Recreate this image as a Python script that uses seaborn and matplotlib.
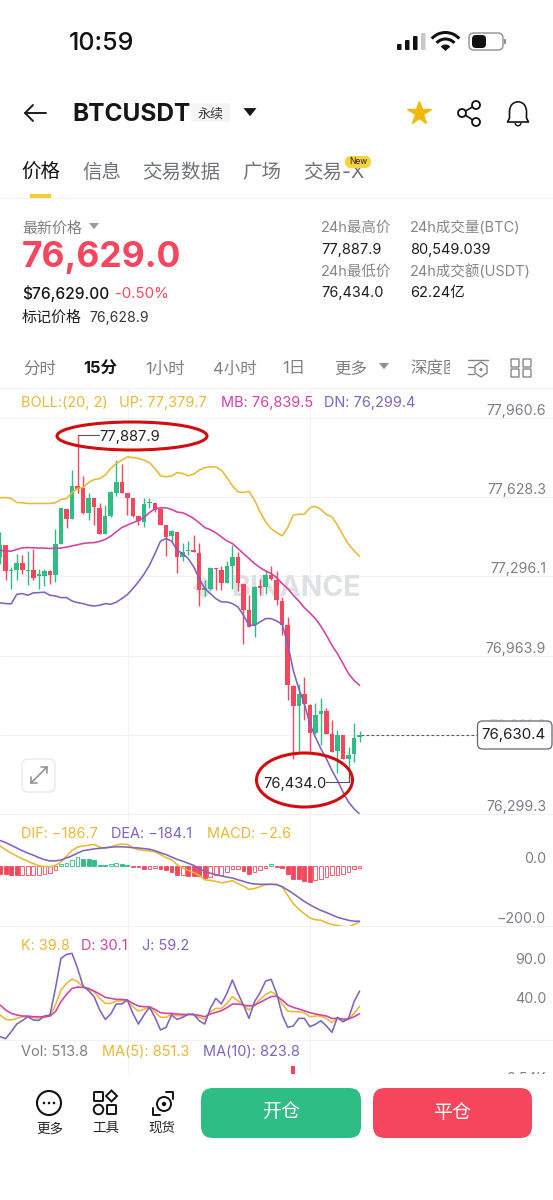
import numpy as np
import matplotlib
matplotlib.use("Agg")
import matplotlib.pyplot as plt
from matplotlib.patches import Ellipse, FancyBboxPatch, Rectangle, Circle, Wedge, Polygon
import seaborn as sns

# ---------- data ----------
OPEN = [77378,77427,77319,77322,77354,77319,77322,77298,77298,77319,77301,77434,77578,77536,77675,77669,77560,77623,77585,77473,
        77549,77648,77693,77648,77623,77549,77525,77602,77605,77578,77511,77465,77483,77378,77402,77406,77396,77241,77244,77331,
        77322,77270,77340,77378,77263,77154,77091,77255,77252,77300,77280,77193,77094,76836,76751,76804,76758,76639,76717,76731,
        76636,76563,76629,76531,76549,76622]
HIGH = [77483,77427,77336,77392,77385,77403,77413,77329,77329,77325,77493,77581,77578,77742,77889,77718,77644,77627,77602,77595,
        77654,77784,77766,77648,77623,77549,77627,77627,77605,77588,77511,77490,77483,77438,77445,77469,77437,77280,77336,77332,
        77340,77361,77427,77399,77266,77217,77255,77287,77319,77339,77319,77210,77126,76839,76843,76874,76759,76765,76787,76745,
        76695,76650,76629,76580,76682,76646]
LOW = [77350,77280,77242,77280,77308,77261,77280,77245,77256,77266,77273,77434,77501,77536,77644,77557,77532,77511,77472,77472,
       77546,77633,77644,77553,77546,77511,77504,77581,77567,77511,77381,77441,77312,77361,77385,77399,77171,77213,77241,77241,
       77238,77269,77245,77235,77011,77084,77042,77217,77224,77280,77175,77052,76779,76531,76563,76692,76563,76636,76587,76636,
       76559,76472,76531,76434,76517,76601]
CLOSE = [77427,77318,77325,77354,77322,77325,77291,77308,77319,77304,77434,77581,77536,77675,77662,77560,77623,77588,77473,77549,
         77651,77693,77648,77623,77549,77529,77599,77609,77574,77511,77462,77486,77378,77399,77406,77399,77238,77249,77332,77326,
         77270,77339,77378,77269,77154,77084,77252,77249,77300,77284,77196,77094,76839,76751,76804,76759,76639,76713,76731,76636,
         76559,76629,76531,76548,76618,76629]
BOLL_UP = [77626,77627,77623,77606,77605,77602,77602,77602,77602,77602,77605,77619,77623,77647,77665,77669,77690,77703,77706,77721,
           77749,77770,77784,77797,77795,77791,77784,77773,77749,77718,77714,77717,77732,77728,77718,77725,77742,77752,77756,77755,
           77742,77711,77676,77651,77648,77653,77616,77567,77525,77497,77480,77466,77501,77553,77557,77557,77584,77590,77577,77556,
           77546,77511,77469,77431,77403,77380]
BOLL_MB = [77406,77402,77402,77409,77416,77417,77416,77415,77415,77413,77415,77415,77419,77424,77429,77434,77437,77438,77443,77451,
           77465,77483,77501,77511,77521,77531,77543,77564,77580,77584,77584,77577,77566,77563,77553,77539,77521,77501,77492,77479,
           77462,77445,77434,77413,77392,77371,77350,77333,77319,77308,77291,77266,77245,77217,77193,77165,77143,77119,77087,77049,
           77007,76972,76930,76888,76860,76839]
BOLL_DN = [77185,77182,77181,77221,77224,77217,77227,77228,77230,77217,77214,77207,77207,77193,77186,77182,77175,77172,77175,77182,
           77179,77188,77203,77220,77245,77273,77305,77343,77392,77444,77455,77444,77406,77392,77371,77336,77287,77245,77224,77203,
           77189,77189,77182,77168,77133,77091,77091,77105,77119,77119,77109,77095,77014,76902,76825,76762,76678,76622,76573,76531,
           76482,76440,76391,76349,76321,76299]
DIF = [67,54,43,33,24,16,8,1,-2,-3,2,13,33,52,63,67,69,72,63,59,63,70,73,72,61,54,52,50,47,38,28,21,4,-7,-14,-22,-31,-46,-48,-51,
       -56,-53,-49,-59,-67,-78,-75,-69,-62,-61,-61,-70,-98,-125,-144,-159,-173,-179,-181,-189,-195,-198,-202,-203,-195,-187]
DEA = [85,78,69,60,51,43,36,28,21,17,17,20,27,34,43,51,54,57,59,61,63,64,64,63,61,60,58,56,51,44,38,30,22,16,9,2,-9,-18,-24,-29,
       -33,-37,-40,-46,-51,-57,-60,-61,-61,-61,-62,-69,-80,-92,-105,-118,-129,-139,-148,-155,-163,-171,-176,-181,-184,-184]
MACD = [-26,-27,-29,-31,-31,-31,-29,-29,-26,-22,-14,8,10,19,30,24,22,19,4,2,6,11,7,3,-3,-4,-9,-9,-7,-11,-14,-20,-31,-31,-33,-34,
        -35,-39,-37,-31,-29,-20,-11,-9,-18,-26,-20,-14,-7,6,-3,-6,-27,-42,-44,-50,-53,-48,-42,-37,-31,-29,-26,-20,-9,-6]
KDJ_K = [28.5,22.9,22.1,24.2,26.3,26.3,25.5,24.2,25.5,27.2,41.3,60.5,69,74.6,71.2,64.8,61.4,58.4,49.8,43.4,43.4,46.4,46.8,46.8,39.1,
         33.6,35.7,38.3,32.7,25.5,25.5,29.8,27.6,27.6,29.3,28.5,25.5,22.9,32.7,37,37,43.4,52,46.8,41.3,34.9,41.3,48.5,54.9,58.4,54.1,
         42.6,33.6,32.7,32.7,31.5,26.3,27.2,27.2,24.2,18.6,25.1,19.9,22.9,30.6,39.8]
KDJ_D = [41.3,34.9,30.6,28.5,27.2,27.2,26.3,26.3,26.3,27.2,32.7,45.6,54.9,62.6,64.3,63.9,62.6,59.2,55.4,51.1,49.8,48.5,48.5,47.7,43.4,
         40,39.1,39.1,35.7,31.5,30.6,30.6,29.8,29.3,29.3,29.3,28,26.3,29.8,31.9,34,37.9,42.6,42.6,41.3,40,40.9,44.7,48.5,52,52.8,
         47.7,41.3,38.3,36.2,34,31.5,29.8,28.5,27.2,24.2,24.2,23.3,23.3,26.3,30.1]
KDJ_J = [0.7,-1.8,7.1,16.9,21.2,26.3,22.1,21.6,27.2,28.5,62.6,101.1,106.2,107.5,88.3,65.6,59.6,52,34.9,22.9,29.8,42.6,42.6,47.7,30.6,
         16.9,28.5,38.3,25.5,9.3,12.7,28.5,22.9,25.5,29.3,29.3,21.2,16.9,37,49.8,42.6,56.2,73.3,56.2,41.3,24.2,45.6,57.1,72,74.2,56.2,
         28.5,12.7,14.4,24.2,24.2,13.5,16.5,21.2,14.4,6.3,25.5,19.9,24.2,45.6,59.2]
PRICE_TICKS = [77960.6,77628.3,77296.1,76963.9,76631.6,76299.3]
MACD_TICKS = [0.0,-200.0]
KDJ_TICKS = [90.0,40.0]
LAST_PRICE = 76630.4
DAY_HIGH = 77887.9
DAY_LOW = 76434.0
VOL_SPIKE_INDEX = [53]
VOL_SPIKE_VALUE = [3694]

# ---------- style ----------
sns.set_theme(style="white")
FONT = ["Inter", "Noto Sans CJK SC", "DejaVu Sans"]
plt.rcParams["font.family"] = FONT
GREEN, RED = "#2EBD85", "#F6465D"
YEL, MAG, PUR = "#EBB833", "#D53FA6", "#7F63BE"
GRID = "#F1F2F4"
GREY = "#7C7F85"
W, H = 553, 1200
fig = plt.figure(figsize=(W / 100, H / 100), dpi=100, facecolor="white")

idx = np.arange(len(CLOSE))
X0, DX = 0.15, 5.53
XLIM = ((0 - X0) / DX, (W - X0) / DX)
VLINES = [(127.5 - X0) / DX, (310 - X0) / DX]

def panel(top, bottom, ylim):
    ax = fig.add_axes([0, 1 - bottom / H, 1, (bottom - top) / H])
    ax.set_xlim(*XLIM)
    ax.set_ylim(*ylim)
    ax.patch.set_alpha(0)
    for s in ax.spines.values():
        s.set_visible(False)
    ax.set_xticks([])
    ax.set_xlabel("")
    for v in VLINES:
        ax.axvline(v, color=GRID, lw=0.8, zorder=0)
    return ax

def yticks(ax, ticks, fmt):
    ax.yaxis.tick_right()
    ax.set_yticks(ticks)
    ax.set_yticklabels([fmt(t) for t in ticks])
    ax.tick_params(axis="y", length=0, pad=-5, labelsize=10.2, labelcolor=GREY)
    for l in ax.get_yticklabels():
        l.set_ha("right")
        l.set_va("bottom")

def line(ax, y, c, lw=1.15):
    sns.lineplot(x=idx, y=y, color=c, lw=lw, ax=ax, legend=False, errorbar=None, sort=False, zorder=5)
    ax.set_xlabel("")
    ax.set_ylabel("")

# ---------- price ----------
ax = panel(418, 814, (76299.3, 77960.6))
yticks(ax, PRICE_TICKS, lambda t: f"{t:,.1f}")
for t in PRICE_TICKS:
    ax.axhline(t, color=GRID, lw=0.8, zorder=0)
o, h, l, c = map(np.array, (OPEN, HIGH, LOW, CLOSE))
col = [GREEN if cc >= oo else RED for oo, cc in zip(o, c)]
ax.vlines(idx, l, h, colors=col, lw=1.0, zorder=4)
ax.bar(idx, np.maximum(np.abs(c - o), 5), bottom=np.minimum(o, c), width=0.82, color=col, zorder=4, lw=0)
line(ax, BOLL_UP, YEL)
line(ax, BOLL_MB, MAG)
line(ax, BOLL_DN, PUR)
ax.plot([idx[-1] + 0.3, XLIM[1] - 13.6], [LAST_PRICE] * 2, color="#55585E", lw=0.8, ls=(0, (2.5, 2)), zorder=2)
ax.plot([14, 17.9], [DAY_HIGH] * 2, color="#55585E", lw=0.8, zorder=6)
ax.plot([63, 59], [DAY_LOW] * 2, color="#55585E", lw=0.8, zorder=6)
ax.plot([63, 63], [DAY_LOW, DAY_LOW + 60], color="#55585E", lw=0.8, zorder=6)
ax.annotate(f"{DAY_HIGH:,.1f}", (17.9, DAY_HIGH), xytext=(0, -1.2), textcoords="offset points", fontsize=10.6,
            va="center", ha="left", color="#222", zorder=7)
ax.annotate(f"{DAY_LOW:,.1f}", (59, DAY_LOW), xytext=(0, -1.2), textcoords="offset points", fontsize=10.6,
            va="center", ha="right", color="#222", zorder=7)

# ---------- MACD ----------
ax2 = panel(814, 926, (-200, 173.3))
yticks(ax2, MACD_TICKS, lambda t: f"{t:.1f}".replace("-", "−"))
ax2.axhline(-200, color=GRID, lw=0.9, zorder=0, clip_on=False)
ax2.axhline(173.3, color=GRID, lw=0.9, zorder=0, clip_on=False)
m = np.array(MACD)
prev = np.r_[m[0] + 1, m[:-1]]
bar_c = [GREEN if v > 0 else RED for v in m]
face = [("white" if v >= p else cc) for v, p, cc in zip(m, prev, bar_c)]
ax2.bar(idx, m, width=0.68, color=face, edgecolor=bar_c, lw=0.6, zorder=2)
line(ax2, DIF, YEL)
line(ax2, DEA, PUR)

# ---------- KDJ ----------
ax3 = panel(926, 1039.5, (-2.9, 142.6))
yticks(ax3, KDJ_TICKS, lambda t: f"{t:.1f}")
ax3.axhline(-2.9, color=GRID, lw=0.9, zorder=0, clip_on=False)
line(ax3, KDJ_K, YEL)
line(ax3, KDJ_D, MAG)
line(ax3, KDJ_J, PUR)

# ---------- Volume ----------
ax4 = panel(1039.5, 1074, (3600, 4000))
ax4.set_yticks([])
ax4.bar(VOL_SPIKE_INDEX, VOL_SPIKE_VALUE, width=0.72, color=RED, lw=0)

# ---------- screen chrome in pixel space ----------
ui = fig.add_axes([0, 0, 1, 1], zorder=10)
ui.set_xlim(0, W)
ui.set_ylim(H, 0)
ui.axis("off")
ui.patch.set_alpha(0)

def T(x, y, s, px=15, color="#202226", weight="normal", ha="left", z=5, **kw):
    return ui.text(x, y + 2, s, fontsize=px * 0.72, color=color, fontweight=weight, ha=ha, va="center",
                   family=FONT, zorder=z, **kw)

def box(x0, y0, x1, y1, r, **kw):
    p = FancyBboxPatch((x0 + r, y0 + r), x1 - x0 - 2 * r, y1 - y0 - 2 * r,
                       boxstyle=f"round,pad={r},rounding_size={r}", **kw)
    ui.add_patch(p)
    return p

def tri(x, y, s, c):
    ui.add_patch(Polygon([(x - s, y - s * 0.6), (x + s, y - s * 0.6), (x, y + s * 0.65)], color=c, lw=0))

def seg(pts, c="#1A1C20", lw=1.4):
    xs, ys = zip(*pts)
    ui.plot(xs, ys, color=c, lw=lw, solid_capstyle="round", solid_joinstyle="round")

# status bar
T(69, 41, "10:59", 25, "#111", "medium")
for x, t, cc in [(397, 44, "#111"), (405, 40, "#111"), (413, 36, "#111"), (421, 33, "#C8C8C8")]:
    box(x, t, x + 4.5, 50, 1, fc=cc, ec="none")
for r, w in [(20, 3), (13.5, 3)]:
    ui.add_patch(Wedge((445.5, 51), r, 222, 318, width=w, fc="#111", ec="none"))
ui.add_patch(Wedge((445.5, 51), 6.5, 222, 318, fc="#111", ec="none"))
box(469, 33, 503, 50, 5, fc="white", ec="#8E8E8E", lw=1)
box(472, 35, 486, 48, 4, fc="#111", ec="none")
box(504, 39, 506, 44, 0.8, fc="#8E8E8E", ec="none")

# header
seg([(25, 113), (46, 113)]); seg([(33, 105), (25, 113), (33, 121)])
T(72, 112.5, "BTCUSDT", 24.5, "#14161A", "bold")
box(191, 103, 230, 122, 2, fc="#F5F5F5", ec="none")
T(210.5, 112.5, "永续", 13, "#33363B", ha="center")
tri(250, 112, 6.5, "#14161A")
ui.plot([419], [113], marker="*", ms=17.5, color="#F0B90B", mec="#F0B90B")
for p in [(476, 105), (462, 113), (476, 122)]:
    ui.add_patch(Circle(p, 4, fc="white", ec="#111", lw=1.3, zorder=3))
seg([(476, 105), (462, 113), (476, 122)], "#111", 1.2)
ui.add_patch(Wedge((518, 110), 9, 180, 360, width=1.6, fc="#111", ec="none"))
seg([(509.5, 110), (509.5, 118), (507.5, 122), (528.5, 122), (526.5, 118), (526.5, 110)], "#111", 1.2)
ui.add_patch(Wedge((518, 123), 3.5, 0, 180, width=1.4, fc="#111", ec="none"))

# tabs
T(21, 171, "价格", 19.5, "#111", "medium")
for x, s in [(82, "信息"), (142, "交易数据"), (242, "广场"), (303, "交易-X")]:
    T(x, 171, s, 19.5, "#6F7278")
box(345, 156, 371, 168, 6, fc="#F8D33A", ec="none", zorder=6)
T(358, 160, "New", 8.5, "#1C1C1C", ha="center", z=7)
ui.add_patch(Rectangle((30, 194), 21, 4, fc="#F5CE2E", ec="none"))
ui.add_patch(Rectangle((0, 197.5), W, 1.2, fc=GRID, ec="none", zorder=1))

# price block
T(22, 227, "最新价格", 15, "#7D8085")
tri(94, 226, 5, "#9A9CA0")
T(22, 255, "76,629.0", 35.5, RED, "bold")
T(22, 292, "$76,629.00", 15.5, "#14161A", "medium")
T(115, 292, "-0.50%", 15, RED)
T(22, 316, "标记价格", 15, "#1C1E22")
T(89, 316, "76,628.9", 14, "#33363B")
for x, y, s, cc, px in [(321, 226, "24h最高价", "#84878C", 14.5), (410, 226, "24h成交量(BTC)", "#84878C", 14.5),
                        (321, 248, "77,887.9", "#1C1E22", 14.5), (410, 248, "80,549.039", "#1C1E22", 14.5),
                        (321, 270, "24h最低价", "#84878C", 14.5), (410, 270, "24h成交额(USDT)", "#84878C", 14.5),
                        (321, 291, "76,434.0", "#1C1E22", 14.5), (410, 291, "62.24亿", "#1C1E22", 14.5)]:
    T(x, y, s, px, cc)

# interval row
for x, s, cc, w in [(23, "分时", "#7D8085", "normal"), (83, "15分", "#14161A", "bold"), (145, "1小时", "#7D8085", "normal"),
                    (213, "4小时", "#7D8085", "normal"), (282, "1日", "#7D8085", "normal"), (334, "更多", "#7D8085", "normal"),
                    (410, "深度图", "#7D8085", "normal")]:
    T(x, 367, s, 16.5, cc, w)
ui.add_patch(Rectangle((450, 355), 14, 25, fc="white", ec="none", zorder=6))
tri(384, 366, 5, "#8E9095")
seg([(468, 360), (488, 360)], "#85878C", 1); seg([(468, 367), (474, 367)], "#85878C", 1); seg([(468, 374), (474, 374)], "#85878C", 1)
ui.add_patch(Polygon([(481, 362), (487, 366), (487, 373), (481, 377), (475, 373), (475, 366)], fc="white", ec="#85878C", lw=1, zorder=3))
ui.add_patch(Circle((481, 369.5), 1.6, fc="#85878C", ec="none", zorder=4))
for bx, by in [(511, 359), (523, 359), (511, 369), (523, 369)]:
    box(bx, by, bx + 8, by + 8, 0.6, fc="white", ec="#85878C", lw=1)
ui.add_patch(Rectangle((0, 387.6), W, 1.2, fc=GRID, ec="none", zorder=1))
for xv in (127.5, 310):
    ui.plot([xv, xv], [389, 418], color=GRID, lw=0.8, zorder=0)

# indicator labels
for x, y, s, cc in [(21, 401, "BOLL:(20, 2)", YEL), (119, 401, "UP: 77,379.7", YEL), (221, 401, "MB: 76,839.5", MAG),
                    (324, 401, "DN: 76,299.4", PUR), (21, 832, "DIF: −186.7", YEL), (111, 832, "DEA: −184.1", PUR),
                    (207, 832, "MACD: −2.6", YEL), (21, 944, "K: 39.8", YEL), (81, 944, "D: 30.1", MAG),
                    (142, 944, "J: 59.2", PUR), (21, 1050, "Vol: 513.8", GREY), (102, 1050, "MA(5): 851.3", YEL),
                    (203, 1050, "MA(10): 823.8", PUR)]:
    T(x, y, s, 14.5, cc)

# watermark, under the candles
ax.text(231, 588, "BINANCE", transform=ui.transData, fontsize=20.5, fontweight="bold", color="#DFE0E3",
        va="center", ha="left", zorder=1)
ax.add_patch(Polygon([(193, 588), (204, 577), (215, 588), (204, 599)], transform=ui.transData, fc="#E2E3E6", ec="none", zorder=1))

# ellipses
ui.add_patch(Ellipse((132, 436), 150, 28, fc="none", ec="#D30D0D", lw=2.2))
ui.add_patch(Ellipse((304.5, 780), 96, 54, fc="none", ec="#D30D0D", lw=2.2))

# expand button
box(22, 759, 55, 792, 6, fc="white", ec="#ECEDEF", lw=1.2)
seg([(31, 783), (47, 767)], "#8A8C90", 1.1)
seg([(41, 767), (47, 767), (47, 773)], "#8A8C90", 1.1)
seg([(31, 777), (31, 783), (37, 783)], "#8A8C90", 1.1)

# last price tag
T(546, 724, "76,631.6", 14, "#D8D9DB", ha="right", z=2)
box(477.5, 721, 552, 749, 5, fc="white", ec="#55585E", lw=0.9, alpha=0.92, zorder=3)
T(546, 733.5, "76,630.4", 15, "#1B1D20", ha="right", z=6)

# bottom bar
T(546, 1077, "3.54K", 14, GREY, ha="right", z=1)
ui.add_patch(Rectangle((0, 1074), W, 126, fc="white", ec="none", zorder=2))
ui.add_patch(Circle((49, 1103), 12, fc="white", ec="#111", lw=1.5, zorder=3))
for dx in (-5, 0, 5):
    ui.add_patch(Circle((49 + dx, 1103), 1.3, fc="#111", ec="none", zorder=4))
for (x, y), kind in [((94, 1092), "s"), ((107, 1092), "d"), ((94, 1105), "c"), ((107, 1105), "s")]:
    if kind == "s":
        box(x, y, x + 9, y + 9, 0.6, fc="white", ec="#111", lw=1.4, zorder=3)
    elif kind == "c":
        ui.add_patch(Circle((x + 4.5, y + 4.5), 4.8, fc="white", ec="#111", lw=1.4, zorder=3))
    else:
        ui.add_patch(Polygon([(x + 4.5, y - 1.5), (x + 10, y + 4), (x + 4.5, y + 9.5), (x - 1, y + 4)], fc="white", ec="#111", lw=1.4, zorder=3))
ui.add_patch(Circle((164, 1104), 7, fc="white", ec="#111", lw=1.4, zorder=3))
ui.add_patch(Circle((164, 1104), 2.2, fc="#111", ec="none", zorder=4))
seg([(153, 1108), (153, 1115), (160, 1115)], "#111", 1.4)
seg([(166, 1092), (173, 1092), (173, 1099)], "#111", 1.4)
ui.lines[-1].set_zorder(4); ui.lines[-2].set_zorder(4)
for x, s in [(49.5, "更多"), (105.5, "工具"), (161.5, "现货")]:
    T(x, 1126, s, 13.5, "#222", ha="center")
box(201, 1088, 361, 1138, 12, fc=GREEN, ec="none", zorder=3)
box(373, 1088, 532, 1138, 12, fc=RED, ec="none", zorder=3)
T(281, 1111, "开仓", 19, "white", "medium", ha="center")
T(452.5, 1111, "平仓", 19, "white", "medium", ha="center")

fig.savefig("out.png", dpi=100, facecolor="white")
